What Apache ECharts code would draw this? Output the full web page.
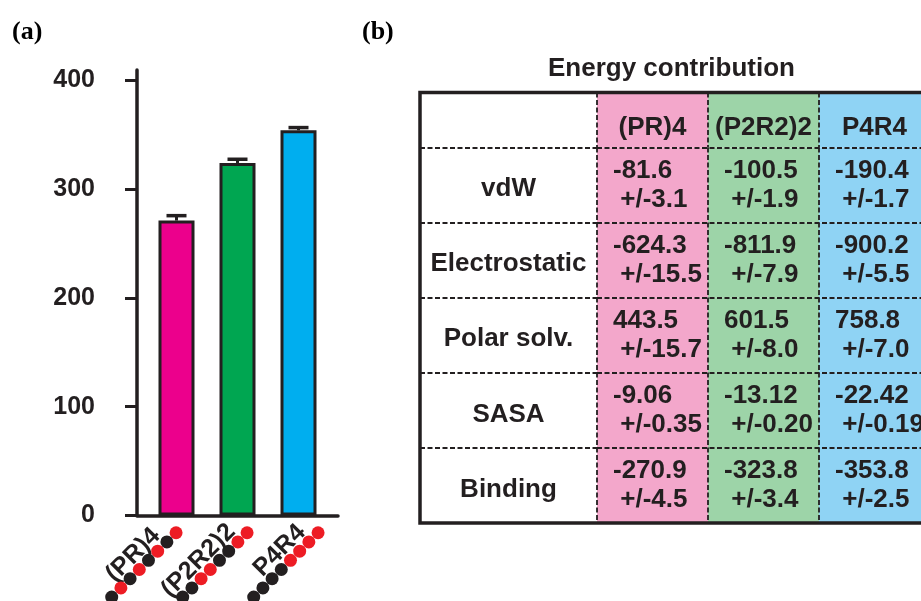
<!DOCTYPE html>
<html>
<head>
<meta charset="utf-8">
<script src="https://cdn.jsdelivr.net/npm/echarts@6/dist/echarts.min.js"></script>
<style>
  html, body { margin: 0; padding: 0; background: #ffffff; }
  #chart { width: 921px; height: 601px; }
</style>
</head>
<body>
<div id="chart"></div>
<script>
// Peptide sequences and their energy decomposition (kcal/mol)
const methods = ['(PR)4', '(P2R2)2', 'P4R4'];
const chains = ['PRPRPRPR', 'PPRRPPRR', 'PPPPRRRR'];   // P = black bead, R = red bead
const terms = ['vdW', 'Electrostatic', 'Polar solv.', 'SASA', 'Binding'];

const vdw        = [-81.6, -100.5, -190.4];
const vdwErr     = [3.1, 1.9, 1.7];
const elec       = [-624.3, -811.9, -900.2];
const elecErr    = [15.5, 7.9, 5.5];
const polar      = [443.5, 601.5, 758.8];
const polarErr   = [15.7, 8.0, 7.0];
const sasa       = [-9.06, -13.12, -22.42];
const sasaErr    = [0.35, 0.20, 0.19];
const binding    = [-270.9, -323.8, -353.8];
const bindingErr = [4.5, 3.4, 2.5];
const decimals   = [1, 1, 1, 2, 1];

const yTicks = [0, 100, 200, 300, 400];

const barColors  = ['#ec008c', '#00a651', '#00aeef'];
const cellColors = ['#f3a7cb', '#9dd4a8', '#8fd3f4'];
const INK = '#231f20';
const SANS = '"Liberation Sans", Arial, sans-serif';

const means = [vdw, elec, polar, sasa, binding];
const errs  = [vdwErr, elecErr, polarErr, sasaErr, bindingErr];

const chart = echarts.init(document.getElementById('chart'), null, { renderer: 'canvas' });

// table body cells: [column, row, mean, error, decimals]
const cellData = [];
terms.forEach((t, r) => {
  methods.forEach((m, c) => {
    cellData.push([c, r, means[r][c], errs[r][c], decimals[r]]);
  });
});

const dashed = { color: INK, width: 1.8, type: [5, 2.5] };
const hiddenValue = (grid) => ({
  type: 'value', gridIndex: grid, show: false, min: 0, max: 1
});

// rich styles for the rotated sequence labels
const BEAD = 13;
const rich = {
  p: { width: BEAD, height: BEAD, lineHeight: BEAD, borderRadius: BEAD / 2, backgroundColor: INK, align: 'right' },
  r: { width: BEAD, height: BEAD, lineHeight: BEAD, borderRadius: BEAD / 2, backgroundColor: '#ed1c24', align: 'right' }
};
const labelPad = [20, 14, 15];
methods.forEach((m, i) => {
  rich['t' + i] = {
    fontFamily: SANS, fontWeight: 'bold', fontSize: 25, color: INK,
    lineHeight: 16, align: 'right', padding: [0, labelPad[i], 0, 0]
  };
});

const gridBase = { outerBoundsMode: 'none', containLabel: false };

const option = {
  backgroundColor: '#ffffff',
  animation: false,
  title: [
    { text: '(a)', left: 12, top: 19, padding: 0,
      textStyle: { fontFamily: '"Liberation Serif", serif', fontWeight: 'bold', fontSize: 26, color: '#000' } },
    { text: '(b)', left: 362, top: 19, padding: 0,
      textStyle: { fontFamily: '"Liberation Serif", serif', fontWeight: 'bold', fontSize: 26, color: '#000' } },
    { text: 'Energy contribution', left: 548, top: 56, padding: 0,
      textStyle: { fontFamily: SANS, fontWeight: 'bold', fontSize: 26, color: INK } }
  ],
  grid: [
    Object.assign({ left: 146, top: 80, width: 183, height: 435.5 }, gridBase),      // 0 bars
    Object.assign({ left: 137, top: 70, width: 201, height: 445.5 }, gridBase),      // 1 axis frame of (a)
    Object.assign({ left: 139.5, top: 80, width: 213, height: 435.5 }, gridBase),    // 2 sequence labels
    Object.assign({ left: 597, top: 92.5, width: 333, height: 55 }, gridBase),       // 3 table header
    Object.assign({ left: 597, top: 147.5, width: 333, height: 375.5 }, gridBase),   // 4 table values
    Object.assign({ left: 420, top: 147.5, width: 177, height: 375.5 }, gridBase),   // 5 term names
    Object.assign({ left: 420, top: 92.5, width: 510, height: 430.5, show: true, z: 10,
      borderColor: INK, borderWidth: 3.5, backgroundColor: 'transparent' }, gridBase) // 6 outer frame
  ],
  xAxis: [
    { type: 'category', gridIndex: 0, data: methods, show: false },
    { type: 'value', gridIndex: 1, min: 0, max: 1,
      axisLine: { show: true, lineStyle: { color: INK, width: 3.5 } },
      axisTick: { show: false }, axisLabel: { show: false }, splitLine: { show: false } },
    { type: 'category', gridIndex: 2, data: methods,
      axisLine: { show: false }, axisTick: { show: false }, splitLine: { show: false },
      axisLabel: {
        interval: 0, rotate: 45, margin: 7, rich: rich,
        formatter: (value, idx) => {
          const beads = chains[idx].split('').map(ch => ch === 'P' ? '{p| }' : '{r| }').join('');
          return '{t' + idx + '|' + value + '}\n' + beads;
        }
      } },
    { type: 'category', gridIndex: 3, data: methods, z: 5,
      axisLine: { show: false }, axisTick: { show: false }, axisLabel: { show: false },
      splitLine: { show: true, interval: 0, lineStyle: dashed } },
    { type: 'category', gridIndex: 4, data: methods, z: 5,
      axisLine: { show: false }, axisTick: { show: false }, axisLabel: { show: false },
      splitLine: { show: true, interval: 0, lineStyle: dashed } },
    { type: 'category', gridIndex: 5, data: [''], show: false },
    hiddenValue(6)
  ],
  yAxis: [
    { type: 'value', gridIndex: 0, min: yTicks[0], max: yTicks[yTicks.length - 1], interval: 100, offset: 9,
      axisLine: { show: false },
      axisTick: { show: true, length: 12, lineStyle: { color: INK, width: 3 } },
      axisLabel: { margin: 42, fontFamily: SANS, fontWeight: 'bold', fontSize: 25, color: INK },
      splitLine: { show: false } },
    { type: 'value', gridIndex: 1, min: 0, max: 1,
      axisLine: { show: true, lineStyle: { color: INK, width: 3.5 } },
      axisTick: { show: false }, axisLabel: { show: false }, splitLine: { show: false } },
    hiddenValue(2),
    { type: 'category', gridIndex: 3, data: ['header'], show: false },
    { type: 'category', gridIndex: 4, data: terms, inverse: true, z: 5,
      axisLine: { show: false }, axisTick: { show: false }, axisLabel: { show: false },
      splitLine: { show: true, interval: 0, lineStyle: dashed } },
    { type: 'category', gridIndex: 5, data: terms, inverse: true, z: 5,
      axisLine: { show: false }, axisTick: { show: false }, axisLabel: { show: false },
      splitLine: { show: true, interval: 0, lineStyle: dashed } },
    hiddenValue(6)
  ],
  series: [
    {
      type: 'bar', xAxisIndex: 0, yAxisIndex: 0, barWidth: 36,
      data: binding.map((v, i) => ({
        value: -v,
        itemStyle: { color: barColors[i], borderColor: INK, borderWidth: 3 }
      })),
      z: 3
    },
    {
      // error caps on top of each bar
      type: 'custom', xAxisIndex: 0, yAxisIndex: 0, z: 4,
      data: binding.map((v, i) => [i, -v, bindingErr[i]]),
      renderItem: (params, api) => {
        const i = api.value(0), v = api.value(1), e = api.value(2);
        const base = api.coord([i, v]);
        const top = api.coord([i, v + e]);
        return {
          type: 'group',
          children: [
            { type: 'line', shape: { x1: base[0], y1: base[1], x2: top[0], y2: top[1] },
              style: { stroke: INK, lineWidth: 3 } },
            { type: 'line', shape: { x1: top[0] - 10, y1: top[1], x2: top[0] + 10, y2: top[1] },
              style: { stroke: INK, lineWidth: 3.5 } }
          ]
        };
      }
    },
    {
      // header cells
      type: 'custom', xAxisIndex: 3, yAxisIndex: 3, z: 2,
      data: methods.map((m, i) => [i, 0]),
      renderItem: (params, api) => {
        const c = api.coord([api.value(0), api.value(1)]);
        const s = api.size([1, 1]);
        const i = api.value(0);
        return {
          type: 'group',
          children: [
            { type: 'rect', shape: { x: c[0] - s[0] / 2, y: c[1] - s[1] / 2, width: s[0], height: s[1] },
              style: { fill: cellColors[i] } },
            { type: 'text', z2: 5,
              style: { text: methods[i], x: c[0], y: c[1] + 8, fill: INK,
                font: 'bold 26px ' + SANS, align: 'center', verticalAlign: 'middle' } }
          ]
        };
      }
    },
    {
      // value cells: mean on the first line, deviation below
      type: 'custom', xAxisIndex: 4, yAxisIndex: 4, z: 2,
      data: cellData,
      renderItem: (params, api) => {
        const col = api.value(0), row = api.value(1);
        const d = cellData[params.dataIndex];
        const c = api.coord([col, row]);
        const s = api.size([1, 1]);
        const x0 = c[0] - s[0] / 2;
        const text = d[2].toFixed(d[4]) + '\n +/-' + d[3].toFixed(d[4]);
        return {
          type: 'group',
          children: [
            { type: 'rect', shape: { x: x0, y: c[1] - s[1] / 2, width: s[0], height: s[1] },
              style: { fill: cellColors[col] } },
            { type: 'text', z2: 5,
              style: { text: text, x: x0 + 16, y: c[1], fill: INK, lineHeight: 29,
                font: 'bold 26px ' + SANS, align: 'left', verticalAlign: 'middle' } }
          ]
        };
      }
    },
    {
      // energy term names
      type: 'custom', xAxisIndex: 5, yAxisIndex: 5, z: 2,
      data: terms.map((t, r) => [0, r]),
      renderItem: (params, api) => {
        const c = api.coord([api.value(0), api.value(1)]);
        return {
          type: 'text',
          style: { text: terms[api.value(1)], x: c[0], y: c[1] + 4, fill: INK,
            font: 'bold 26px ' + SANS, align: 'center', verticalAlign: 'middle' }
        };
      }
    }
  ]
};

chart.setOption(option);
</script>
</body>
</html>
